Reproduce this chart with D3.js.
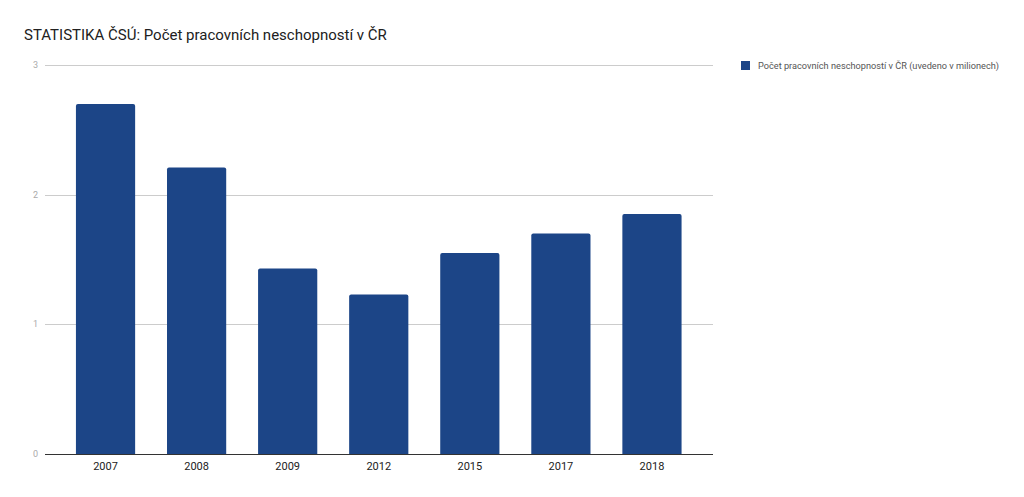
<!DOCTYPE html>
<html><head><meta charset="utf-8">
<script src="https://cdn.jsdelivr.net/npm/d3@7"></script>
<style>body{margin:0;background:#fff;} svg{display:block;font-family:Roboto,sans-serif;}</style>
</head><body>
<svg id="c" width="1024" height="497"></svg>
<script>
const categories = ["2007","2008","2009","2012","2015","2017","2018"];
const values = [2.70, 2.21, 1.43, 1.23, 1.55, 1.70, 1.85];
const yTicks = [0,1,2,3];
const title = "STATISTIKA ČSÚ: Počet pracovních neschopností v ČR";
const seriesName = "Počet pracovních neschopností v ČR (uvedeno v milionech)";

(function(){
const svg = d3.select("#c");
const mLeft = 45, mRight = 713, mTop = 65, mBottom = 454;
const x = d3.scaleBand().domain(categories).range([60, 697.5]).paddingInner(0.35).paddingOuter(0.175);
const y = d3.scaleLinear().domain([0,3]).range([mBottom, mTop]);

svg.append("text").attr("x",24).attr("y",40).attr("font-size",15).attr("fill","#212121").text(title);

svg.append("g").selectAll("line").data(yTicks.filter(d=>d>0)).join("line")
  .attr("x1",mLeft).attr("x2",mRight).attr("y1",d=>Math.round(y(d))+0.5).attr("y2",d=>Math.round(y(d))+0.5)
  .attr("stroke","#cccccc").attr("stroke-width",1);
svg.append("g").selectAll("text").data(yTicks).join("text")
  .attr("x",38).attr("y",d=>y(d)+3).attr("text-anchor","end").attr("font-size",9).attr("fill","#aaaaaa").text(d=>d);

const r = 2;
svg.append("g").selectAll("path").data(categories.map((c,i)=>({c,v:values[i]}))).join("path")
  .attr("fill","#1c4587")
  .attr("d",d=>{
    const x0=x(d.c), w=x.bandwidth(), y0=y(d.v), y1=y(0);
    return `M${x0},${y1}V${y0+r}Q${x0},${y0} ${x0+r},${y0}H${x0+w-r}Q${x0+w},${y0} ${x0+w},${y0+r}V${y1}Z`;
  });

svg.append("line").attr("x1",mLeft).attr("x2",mRight).attr("y1",mBottom+0.5).attr("y2",mBottom+0.5).attr("stroke","#333333").attr("stroke-width",1);

svg.append("g").selectAll("text").data(categories).join("text")
  .attr("x",d=>x(d)+x.bandwidth()/2).attr("y",470).attr("text-anchor","middle").attr("font-size",11).attr("fill","#222222").text(d=>d);

svg.append("rect").attr("x",741).attr("y",61).attr("width",9).attr("height",9).attr("fill","#1c4587");
svg.append("text").attr("x",758).attr("y",69).attr("font-size",9.2).attr("fill","#555555").text(seriesName);
})();
</script>
</body></html>
